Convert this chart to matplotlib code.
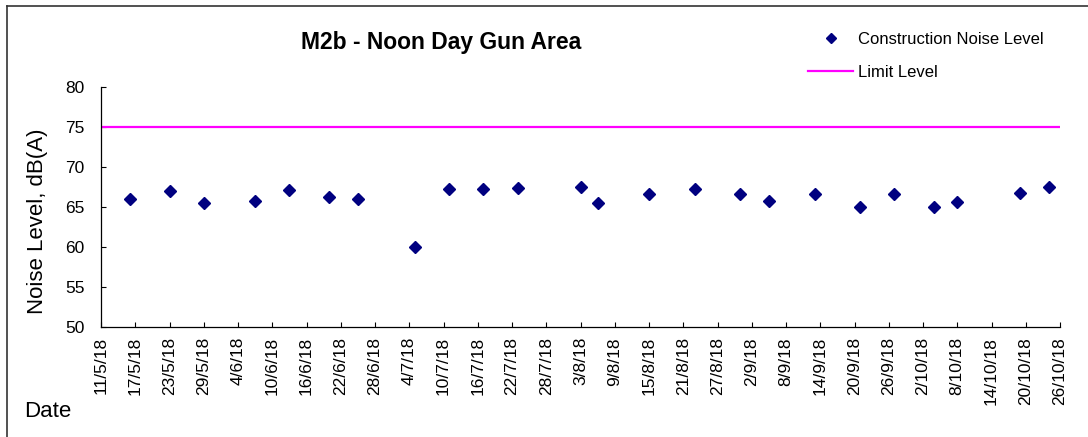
# M2b - Noon Day Gun Area noise chart

import datetime as dt
import matplotlib
matplotlib.use('Agg')
import matplotlib.pyplot as plt
import matplotlib.ticker as mticker
from matplotlib.lines import Line2D

plt.rcParams['font.family'] = ['Liberation Sans', 'DejaVu Sans']

# measurement dates (day, month) in 2018 and levels in dB(A)
meas_days = [(16, 5), (23, 5), (29, 5), (7, 6), (13, 6), (20, 6), (25, 6), (5, 7),
             (11, 7), (17, 7), (23, 7), (3, 8), (6, 8), (15, 8), (23, 8), (31, 8),
             (5, 9), (13, 9), (21, 9), (27, 9), (4, 10), (8, 10), (19, 10), (24, 10)]
noise_level = [66.0, 67.0, 65.5, 65.8, 67.1, 66.3, 66.0, 60.0,
               67.25, 67.3, 67.4, 67.5, 65.5, 66.6, 67.2, 66.6,
               65.7, 66.6, 65.0, 66.6, 65.0, 65.6, 66.8, 67.5]
limit_level = 75
x_start = dt.date(2018, 5, 11)
x_end = dt.date(2018, 10, 26)
tick_step_days = 6

dates = [dt.date(2018, m, d) for d, m in meas_days]

W, H = 1088, 437
fig = plt.figure(figsize=(W / 100, H / 100), dpi=100)
ax = fig.add_axes([101 / W, 1 - 326.7 / H, (1060 - 101) / W, (326.7 - 87.3) / H])

ax.plot(dates, noise_level, linestyle='none', marker='D', ms=6.2,
        color='#000080', label='Construction Noise Level')
ax.plot([x_start, x_end], [limit_level, limit_level], color='#ff00ff', lw=1.6,
        label='Limit Level')

ax.set_xlim(x_start, x_end)
ax.set_ylim(50, 80)
ax.yaxis.set_major_locator(mticker.MultipleLocator(5))

ticks = []
d = x_start
while d <= x_end:
    ticks.append(d)
    d += dt.timedelta(days=tick_step_days)
ax.set_xticks(ticks)
ax.set_xticklabels(['{}/{}/{}'.format(t.day, t.month, t.year % 100) for t in ticks],
                   rotation=90, va='top', ha='center')

ax.tick_params(axis='x', direction='in', length=3.5, width=0.8, pad=7.5, labelsize=12.5)
ax.tick_params(axis='y', direction='in', length=3.5, width=0.8, pad=12, labelsize=12.5)
for s in ['top', 'right']:
    ax.spines[s].set_visible(False)
for s in ['left', 'bottom']:
    ax.spines[s].set_linewidth(0.9)

# chart title and axis titles
fig.text(441 / W, 1 - 42 / H, 'M2b - Noon Day Gun Area', ha='center', va='center',
         fontsize=16.5, fontweight='bold')
fig.text(38 / W, 1 - 221 / H, 'Noise Level, dB(A)', rotation=90, ha='center',
         va='center', fontsize=16)
fig.text(24 / W, 1 - 417 / H, 'Date', ha='left', va='baseline', fontsize=16)

handles = [Line2D([], [], linestyle='none', marker='D', ms=5, color='#000080'),
           Line2D([], [], color='#ff00ff', lw=1.6)]
fig.legend(handles, ['Construction Noise Level', 'Limit Level'], loc='upper left',
           bbox_to_anchor=(808 / W, 1 - 32 / H), frameon=False, fontsize=12,
           handlelength=2.7, handletextpad=0.3, labelspacing=1.1,
           borderpad=0, borderaxespad=0)

# outer chart frame (only left and top edges are in view)
fig.add_artist(Line2D([7 / W, 7 / W], [0, 1 - 6 / H], transform=fig.transFigure,
                      color='#333333', lw=1.2))
fig.add_artist(Line2D([7 / W, 1], [1 - 6 / H, 1 - 6 / H], transform=fig.transFigure,
                      color='#333333', lw=1.2))

fig.savefig('out.png', dpi=100)
